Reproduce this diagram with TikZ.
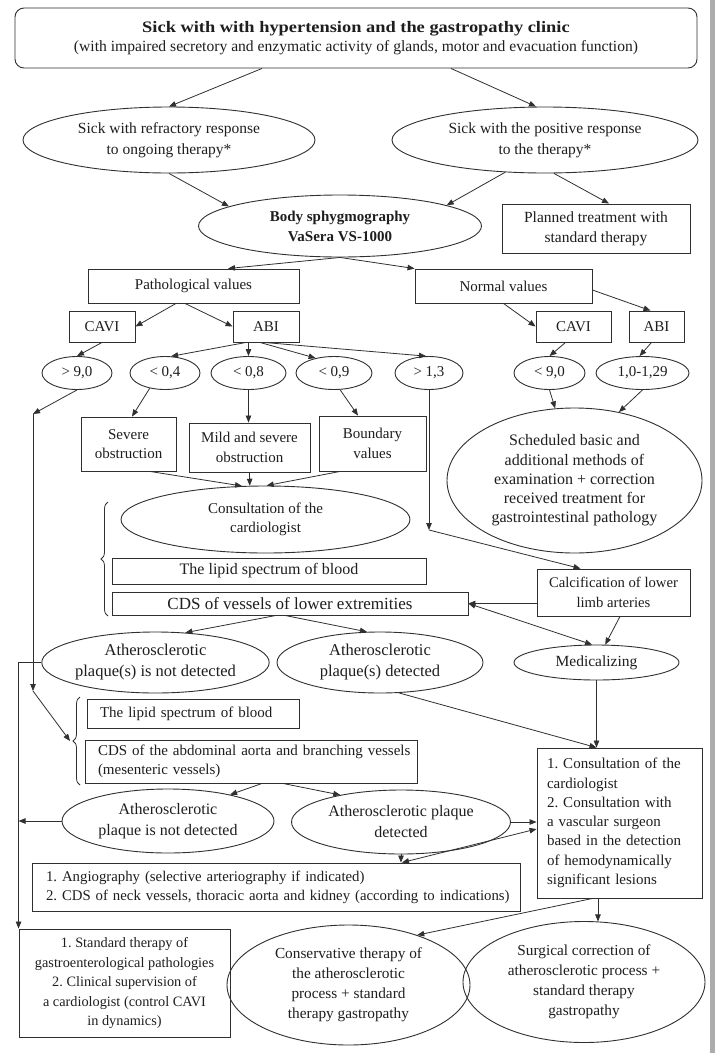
\documentclass[tikz,border=0pt]{standalone}
\usepackage{fontspec}
\usepackage{graphicx}
\setmainfont{Liberation Serif}
\usetikzlibrary{arrows.meta,calc,shapes.geometric,decorations.pathreplacing}
\definecolor{lc}{HTML}{303030}
\definecolor{tc}{HTML}{1E1E1E}
\newcommand{\fs}[2]{\fontsize{#1}{#2}\selectfont}
\frenchspacing
\begin{document}
\begin{tikzpicture}[x=1pt,y=-1pt,
  every node/.style={font=\fs{15}{19.5}, text=tc},
  bx/.style={draw=lc, line width=0.9pt, rectangle, inner sep=0pt, align=center},
  el/.style={draw=lc, line width=0.9pt, ellipse, inner sep=0pt, align=center},
  arr/.style={draw=lc, line width=0.8pt, -{Triangle[length=7pt,width=5.5pt]}},
  darr/.style={draw=lc, line width=0.8pt, {Triangle[length=7pt,width=5.5pt]}-{Triangle[length=7pt,width=5.5pt]}},
  ln/.style={draw=lc, line width=0.8pt}
]
\fill[white] (0,0) rectangle (715,1053);
\useasboundingbox (0,0) rectangle (715,1053);
\fill[gray!65] (710,0) rectangle (715,1053);

% nodes
\node[bx, rounded corners=9pt, minimum width=682, minimum height=60, font=\fs{15.6}{19}] (top) at (356,38)
  {\scalebox{1.15}[1]{\fs{16}{19}\bfseries Sick with with hypertension and the gastropathy clinic}\\(with impaired secretory and enzymatic activity of glands, motor and evacuation function)};
\node[el, minimum width=292, minimum height=66, font=\fs{15.5}{21}] (el1) at (169,140) {Sick with refractory response\\to ongoing therapy*};
\node[el, minimum width=306, minimum height=66, font=\fs{15.5}{21}] (el2) at (545,140) {Sick with the positive response\\to the therapy*};
\node[el, minimum width=283, minimum height=62, font=\bfseries\fs{15}{20}] (body) at (340,226) {Body sphygmography\\VaSera VS-1000};
\node[bx, minimum width=188, minimum height=49, font=\fs{15.5}{20}] (planned) at (596,228.5) {Planned treatment with\\standard therapy};
\node[bx, minimum width=211, minimum height=34] (path) at (193.5,286) {Pathological values};
\node[bx, minimum width=177, minimum height=34] (normal) at (503.5,286) {Normal values};
\node[bx, minimum width=66, minimum height=31] (cavi1) at (102,326.5) {CAVI};
\node[bx, minimum width=66, minimum height=31] (abi1) at (266,326.5) {ABI};
\node[bx, minimum width=75, minimum height=31] (cavi2) at (573.5,326.5) {CAVI};
\node[bx, minimum width=55, minimum height=31] (abi2) at (656.5,326.5) {ABI};
\node[el, minimum width=70, minimum height=33] (e90) at (77,373) {> 9,0};
\node[el, minimum width=70, minimum height=33] (e04) at (165,373) {< 0,4};
\node[el, minimum width=75, minimum height=33] (e08) at (248.5,373) {< 0,8};
\node[el, minimum width=76, minimum height=33] (e09) at (334,373) {< 0,9};
\node[el, minimum width=68, minimum height=33] (e13) at (429,373) {> 1,3};
\node[el, minimum width=71, minimum height=33] (e90b) at (549.5,373) {< 9,0};
\node[el, minimum width=93, minimum height=33] (e129) at (642.5,373) {1,0-1,29};
\node[bx, minimum width=95, minimum height=54] (severe) at (128.5,444) {Severe\\obstruction};
\node[bx, minimum width=121, minimum height=49] (mild) at (249.5,447.5) {Mild and severe\\obstruction};
\node[bx, minimum width=107, minimum height=55] (boundary) at (372.5,443.5) {Boundary\\values};
\node[el, minimum width=255, minimum height=145, font=\fs{16}{19.2}] (sched) at (574.5,480.5) {Scheduled basic and\\additional methods of\\examination + correction\\received treatment for\\gastrointestinal pathology};
\node[el, minimum width=289, minimum height=67] (consult1) at (265.5,519.5) {Consultation of the\\cardiologist};
\node[bx, minimum width=314, minimum height=26, font=\fs{16}{20}] (lipid1) at (269,571) {The lipid spectrum of blood};
\node[bx, minimum width=356, minimum height=23, font=\fs{17}{20}] (cds1) at (290,603.5) {CDS of vessels of lower extremities};
\node[bx, minimum width=153, minimum height=47, font=\fs{14.7}{20}] (calc) at (613.5,592.5) {Calcification of lower\\limb arteries};
\node[el, minimum width=165, minimum height=35, font=\fs{15.5}{20}] (med) at (596.5,662.5) {Medicalizing};
\node[el, minimum width=227, minimum height=61, font=\fs{16.5}{21}] (nd1) at (155.5,662.5) {Atherosclerotic\\plaque(s) is not detected};
\node[el, minimum width=206, minimum height=61, font=\fs{16.5}{21}] (det1) at (380,662.5) {Atherosclerotic\\plaque(s) detected};
\node[bx, align=left, inner xsep=13pt, text width=186, minimum height=29] (lipid2) at (193,713.5) {The lipid spectrum of blood};
\node[bx, align=left, inner xsep=13pt, text width=306, minimum height=43, font=\fs{15}{19}] (cds2) at (251,761.5) {\mbox{CDS of the abdominal aorta and branching vessels}\\(mesenteric vessels)};
\node[el, minimum width=212, minimum height=64, font=\fs{16}{21}] (nd2) at (168,821) {Atherosclerotic\\plaque is not detected};
\node[el, minimum width=219, minimum height=64, font=\fs{16}{21}] (det2) at (401,822) {Atherosclerotic plaque\\detected};
\node[bx, align=left, inner xsep=10pt, text width=145, minimum height=150, font=\fs{15}{19.3}] (consult2) at (619.5,823) {1. Consultation of the\\cardiologist\\2. Consultation with\\a vascular surgeon\\based in the detection\\of hemodynamically\\significant lesions};
\node[bx, align=left, inner xsep=14pt, text width=460, minimum height=48, font=\fs{14.8}{19}] (angio) at (276,887) {\mbox{1. Angiography (selective arteriography if indicated)}\\\mbox{2. CDS of neck vessels, thoracic aorta and kidney (according to indications)}};
\node[bx, minimum width=211, minimum height=108, font=\fs{14.3}{19.5}] (standard) at (124.5,983) {1. Standard therapy of\\gastroenterological pathologies\\2. Clinical supervision of\\a cardiologist (control CAVI\\in dynamics)};
\node[el, minimum width=243, minimum height=120, font=\fs{15.3}{20}] (cons) at (348.5,985) {Conservative therapy of\\the atherosclerotic\\process + standard\\therapy gastropathy};
\node[el, minimum width=242, minimum height=121, font=\fs{15.3}{20}] (surg) at (584,982) {Surgical correction of\\atherosclerotic process +\\standard therapy\\gastropathy};

\coordinate (c1) at (33,414);
\coordinate (c2) at (33,691);
\coordinate (b2) at (70,741);
\coordinate (k) at (429,530);

% braces
\draw[ln, decorate, decoration={brace, amplitude=7pt}] (108,616) -- (108,502);
\draw[ln, decorate, decoration={brace, amplitude=7pt}] (80,785) -- (80,697);

% connectors
\draw[arr] ($(top.south)+(-94,0)$) -- (el1.north);
\draw[arr] ($(top.south)+(95,0)$) -- ($(el2.north)+(-9,0)$);
\draw[arr] (el1.south) -- (body.170);
\draw[arr] (el2.219) -- (body.11);
\draw[arr] (el2.285) -- ($(planned.north)+(13,0)$);
\draw[arr] (body.south) -- ($(path.north)+(34.5,0)$);
\draw[arr] (body.south) -- (normal.north west);
\draw[arr] ($(path.south)+(-17.5,0)$) -- (cavi1.east);
\draw[arr] ($(path.south)+(-8.5,0)$) -- (abi1.west);
\draw[arr] (normal.south) -- (cavi2.west);
\draw[arr] ($(normal.east)+(0,4)$) -- ($(abi2.north)+(-6,0)$);
\draw[arr] (cavi1.south) -- (e90.north);
\draw[arr] ($(abi1.south)+(-20,0)$) -- (e04.70);
\draw[arr] (e08.north |- abi1.south) -- (e08.north);
\draw[arr] ($(abi1.south)+(-6,0)$) -- (e09.141);
\draw[arr] ($(abi1.south)+(-2,0)$) -- (e13.100);
\draw[arr] ($(cavi2.south)+(-8,0)$) -- (e90b.north);
\draw[arr] ($(abi2.south)+(-5,0)$) -- (e129.100);
\draw[arr] (e90.south) -- (c1);
\draw[arr] (c1) -- (c2);
\draw[arr] (c2) -- (b2);
\draw[arr] (e04.225) -- ($(severe.north)+(3.5,0)$);
\draw[arr] (e08.south) -- (e08.south |- mild.north);
\draw[arr] (e09.290) -- ($(boundary.north)+(-14.5,0)$);
\draw[arr] (e13.south) -- (k);
\draw[arr] (k) -- ($(calc.north)+(-33,0)$);
\draw[arr] (e90b.south) -- (sched.105);
\draw[arr] (e129.south) -- (sched.57);
\draw[arr] ($(severe.south)+(21.5,0)$) -- (consult1.125);
\draw[arr] (mild.south) -- (consult1.115);
\draw[arr] ($(boundary.south)+(-32.5,0)$) -- (consult1.88);
\draw[arr] (calc.west |- cds1.east) -- (cds1.east);
\draw[darr] (cds1.east) -- (med.104);
\draw[arr] ($(calc.south)+(6.5,0)$) -- (med.64);
\draw[arr] (med.south) -- (med.south |- consult2.north);
\draw[arr] (det1.302) -- (med.south |- consult2.north);
\draw[arr] ($(cds1.south)+(-14,0)$) -- (nd1.45);
\draw[arr] ($(cds1.south)+(-5,0)$) -- (det1.113);
\draw[arr] (nd1.west) -| (standard.north west);
\draw[arr] ($(cds2.south)+(11,0)$) -- (nd2.23);
\draw[arr] ($(cds2.south)+(32,0)$) -- (det2.156);
\draw[arr] (nd2.west) -- (nd2.west -| standard.north west);
\draw[arr] (det2.east) -- (det2.east -| consult2.west);
\draw[arr] (det2.south) -- (det2.south |- angio.north);
\draw[darr] ($(consult2.west)+(0,6)$) -- ($(angio.north)+(126,0)$);
\draw[arr] (surg.77 |- consult2.south) -- (surg.77);
\draw[arr] ($(consult2.south)+(-27,0)$) -- (cons.36);
\end{tikzpicture}
\end{document}
